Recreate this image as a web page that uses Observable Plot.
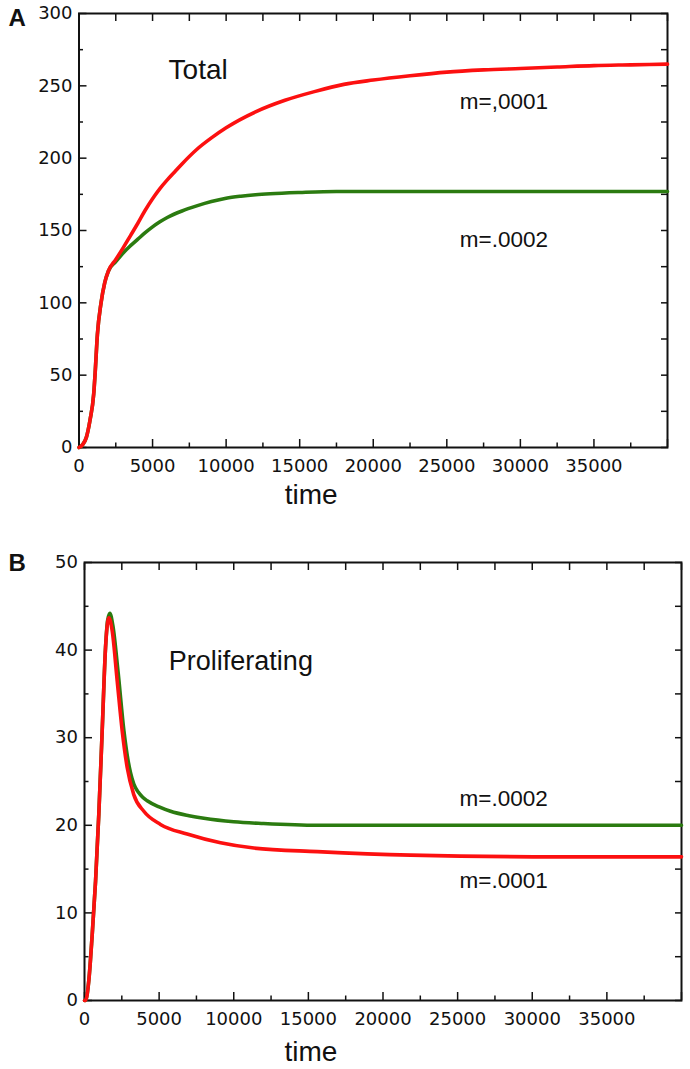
<!DOCTYPE html>
<html>
<head>
<meta charset="utf-8">
<script src="https://cdn.jsdelivr.net/npm/d3@7"></script>
<script src="https://cdn.jsdelivr.net/npm/@observablehq/plot@0.6"></script>
<style>
  html, body { margin: 0; padding: 0; background: #fff; }
  #wrap { position: relative; width: 690px; height: 1069px; overflow: hidden; background: #fff; }
  #panelA { position: absolute; left: 0; top: 0; }
  #panelB { position: absolute; left: 0; top: 530px; }
</style>
</head>
<body>
<div id="wrap">
  <div id="panelA"></div>
  <div id="panelB"></div>
</div>
<script>
// ---------- Data ----------
// Panel A: Total
const totalTimeLow = [0, 250, 500, 750, 1000, 1100, 1250, 1500, 1750, 2000, 2500, 3000, 3500, 4000, 4500, 5000, 5500, 6000, 6500, 7000, 8000, 9000, 10000, 12000, 14000, 16000, 18000, 20000, 22500, 25000, 27500, 30000, 32500, 35000, 37500, 40000];
const totalLow     = [0, 2, 7, 19, 37, 52, 78, 100, 114, 122, 130, 138, 146.5, 155, 164, 172, 179, 185, 190.5, 196, 206, 214, 221, 232, 240, 246, 251, 254, 257, 259.5, 261, 262, 263, 264, 264.5, 265];
const totalTimeHigh = [0, 250, 500, 750, 1000, 1100, 1250, 1500, 1750, 2000, 2500, 3000, 3500, 4000, 4500, 5000, 5500, 6000, 7000, 8000, 9000, 10000, 11000, 12000, 13000, 15000, 17500, 20000, 25000, 30000, 35000, 40000];
const totalHigh     = [0, 2, 7, 19, 37, 52, 78, 100, 114, 122, 128.5, 134.5, 139.5, 144, 148.5, 152.5, 156, 159, 163.5, 167, 170, 172.3, 173.7, 174.7, 175.4, 176.3, 177, 177, 177, 177, 177, 177];

// Panel B: Proliferating
const prolTimeLow = [0, 67, 290, 515, 740, 960, 1185, 1410, 1550, 1630, 1855, 2190, 2525, 2860, 3300, 3975, 5090, 6880, 9115, 11350, 15600, 21850, 31770, 40000];
const prolLow     = [0, 0, 2.3, 7.5, 13.6, 21.3, 30.8, 40.3, 43.2, 43.7, 42.2, 36.5, 30.8, 26.6, 23.5, 21.6, 20.1, 19.0, 18.0, 17.4, 17.0, 16.6, 16.4, 16.4];
const prolTimeHigh = [0, 67, 290, 515, 740, 960, 1185, 1410, 1550, 1700, 1900, 2250, 2640, 2900, 3083, 3305, 3600, 3900, 4200, 5000, 5765, 7000, 8000, 10000, 12000, 15600, 25000, 40000];
const prolHigh     = [0, 0, 2.3, 7.5, 13.6, 21.3, 30.8, 40.3, 43.4, 44.2, 42.8, 37.5, 30.8, 27.6, 26.0, 24.7, 23.8, 23.2, 22.8, 22.1, 21.6, 21.1, 20.8, 20.4, 20.2, 20.0, 20.0, 20.0];

// Ticks
const xMajorTicks = [0, 5000, 10000, 15000, 20000, 25000, 30000, 35000, 40000];
const xMinorTicks = [2500, 7500, 12500, 17500, 22500, 27500, 32500, 37500];
const xAllTicks = [0, 2500, 5000, 7500, 10000, 12500, 15000, 17500, 20000, 22500, 25000, 27500, 30000, 32500, 35000, 37500, 40000];
const yMajorA = [0, 50, 100, 150, 200, 250, 300];
const yMinorA = [25, 75, 125, 175, 225, 275];
const yMajorB = [0, 10, 20, 30, 40, 50];
const yMinorB = [5, 15, 25, 35, 45];

// Labels
const seriesLabelLow = "m=.0001";
const seriesLabelLowA = "m=,0001";
const seriesLabelHigh = "m=.0002";

const RED = "#fc1010";
const GREEN = "#2b7b10";
const TEXT_FONT = "Liberation Sans, Arial, sans-serif";

const zip = (ts, vs) => ts.map((t, i) => ({t, v: vs[i]}));

function axesMarks(yMajor, yMinor, yAll) {
  const fmtX = d => (d < 40000 ? String(d) : "");
  const none = () => "";
  return [
    Plot.axisX({anchor: "bottom", ticks: xMajorTicks, tickSize: -8, tickPadding: 20, tickFormat: fmtX, fontSize: 18, label: null, strokeWidth: 1.5}),
    Plot.axisX({anchor: "bottom", ticks: xMinorTicks, tickSize: -4.5, tickFormat: none, label: null, strokeWidth: 1.5}),
    Plot.axisX({anchor: "top", ticks: xAllTicks, tickSize: -7, tickFormat: none, label: null, strokeWidth: 1.5}),
    Plot.axisY({anchor: "left", ticks: yMajor, tickSize: -8, tickPadding: 14.5, fontSize: 18, label: null, strokeWidth: 1.5}),
    Plot.axisY({anchor: "left", ticks: yMinor, tickSize: -4.5, tickFormat: none, label: null, strokeWidth: 1.5}),
    Plot.axisY({anchor: "right", ticks: yAll, tickSize: -7, tickFormat: none, label: null, strokeWidth: 1.5}),
    Plot.frame({strokeWidth: 2})
  ];
}

const styleObj = {fontFamily: "'DejaVu Sans', sans-serif", fontSize: "18px", color: "#111"};

// ---------- Panel A ----------
const chartA = Plot.plot({
  width: 690, height: 520,
  marginLeft: 78.5, marginRight: 23, marginTop: 13, marginBottom: 73,
  x: {domain: [0, 40000]},
  y: {domain: [0, 300]},
  style: styleObj,
  marks: [
    ...axesMarks(yMajorA, yMinorA, [...yMajorA, ...yMinorA].sort((a, b) => a - b)),
    Plot.line(zip(totalTimeHigh, totalHigh), {x: "t", y: "v", stroke: GREEN, strokeWidth: 3.6, curve: "monotone-x"}),
    Plot.line(zip(totalTimeLow, totalLow), {x: "t", y: "v", stroke: RED, strokeWidth: 3.6, curve: "monotone-x"}),
    Plot.text(["Total"], {x: 6090, y: 255, text: d => d, textAnchor: "start", lineAnchor: "bottom", fontSize: 28, fontFamily: TEXT_FONT}),
    Plot.text([seriesLabelLowA], {x: 25880, y: 234.3, text: d => d, textAnchor: "start", lineAnchor: "bottom", fontSize: 22.5, fontFamily: TEXT_FONT}),
    Plot.text([seriesLabelHigh], {x: 25880, y: 138.3, text: d => d, textAnchor: "start", lineAnchor: "bottom", fontSize: 22.5, fontFamily: TEXT_FONT}),
    Plot.text(["time"], {frameAnchor: "bottom", dx: -62, dy: 56, text: d => d, lineAnchor: "bottom", fontSize: 28, fontFamily: TEXT_FONT}),
    Plot.text(["A"], {frameAnchor: "top-left", dx: -70.5, dy: 12.5, text: d => d, textAnchor: "start", lineAnchor: "bottom", fontSize: 24, fontWeight: "bold", fontFamily: TEXT_FONT})
  ]
});
document.getElementById("panelA").appendChild(chartA);

// ---------- Panel B ----------
const chartB = Plot.plot({
  width: 690, height: 539,
  marginLeft: 84, marginRight: 9, marginTop: 32, marginBottom: 69,
  x: {domain: [0, 40000]},
  y: {domain: [0, 50]},
  style: styleObj,
  marks: [
    ...axesMarks(yMajorB, yMinorB, [...yMajorB, ...yMinorB].sort((a, b) => a - b)),
    Plot.line(zip(prolTimeHigh, prolHigh), {x: "t", y: "v", stroke: GREEN, strokeWidth: 3.6, curve: "monotone-x"}),
    Plot.line(zip(prolTimeLow, prolLow), {x: "t", y: "v", stroke: RED, strokeWidth: 3.6, curve: "monotone-x"}),
    Plot.text(["Proliferating"], {x: 5650, y: 37.7, text: d => d, textAnchor: "start", lineAnchor: "bottom", fontSize: 27, fontFamily: TEXT_FONT}),
    Plot.text([seriesLabelHigh], {x: 25130, y: 22.26, text: d => d, textAnchor: "start", lineAnchor: "bottom", fontSize: 22.5, fontFamily: TEXT_FONT}),
    Plot.text([seriesLabelLow], {x: 25130, y: 12.8, text: d => d, textAnchor: "start", lineAnchor: "bottom", fontSize: 22.5, fontFamily: TEXT_FONT}),
    Plot.text(["time"], {frameAnchor: "bottom", dx: -72, dy: 60, text: d => d, lineAnchor: "bottom", fontSize: 28, fontFamily: TEXT_FONT}),
    Plot.text(["B"], {frameAnchor: "top-left", dx: -76, dy: 8, text: d => d, textAnchor: "start", lineAnchor: "bottom", fontSize: 24, fontWeight: "bold", fontFamily: TEXT_FONT})
  ]
});
document.getElementById("panelB").appendChild(chartB);
</script>
</body>
</html>
